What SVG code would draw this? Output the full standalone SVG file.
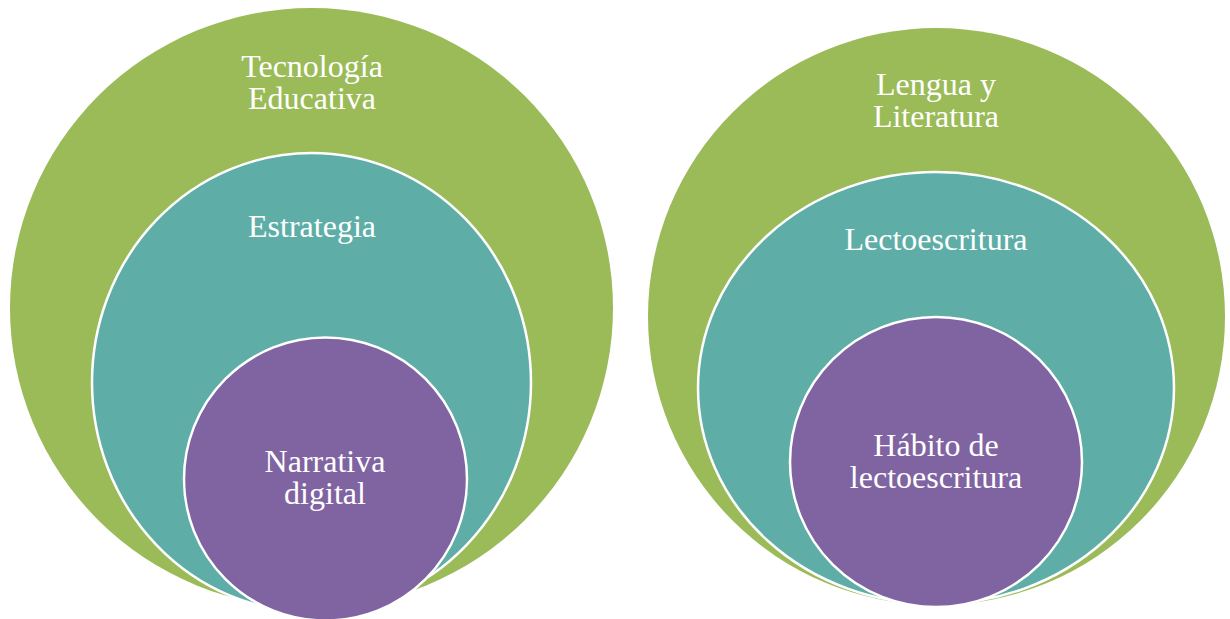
<svg xmlns="http://www.w3.org/2000/svg" width="1230" height="619" viewBox="0 0 1230 619">
  <style>
    .outer { fill: #9BBB59; }
    .mid { fill: #5EAEA7; stroke: #FFFFFF; stroke-width: 2.5; }
    .inner { fill: #8064A2; stroke: #FFFFFF; stroke-width: 2.5; }
    .lbl { font-family: "Liberation Serif", "Times New Roman", serif; font-size: 32px; fill: #FFFFFF; text-anchor: middle; }
  </style>
  <rect width="1230" height="619" fill="#FFFFFF"/>

  <!-- Left nested set -->
  <g id="tecnologia-educativa">
    <ellipse class="outer" cx="311.5" cy="308" rx="301.5" ry="300"/>
    <text class="lbl" x="312" y="77">Tecnología</text>
    <text class="lbl" x="312" y="109">Educativa</text>
  </g>
  <g id="estrategia">
    <ellipse class="mid" cx="311.5" cy="382.5" rx="219.5" ry="229.5"/>
    <text class="lbl" x="312" y="237">Estrategia</text>
  </g>
  <g id="narrativa-digital">
    <ellipse class="inner" cx="325.5" cy="479" rx="141.5" ry="141.5"/>
    <text class="lbl" x="325" y="472">Narrativa</text>
    <text class="lbl" x="325" y="504">digital</text>
  </g>

  <!-- Right nested set -->
  <g id="lengua-literatura">
    <ellipse class="outer" cx="936.5" cy="316.5" rx="288.5" ry="288.5"/>
    <text class="lbl" x="936" y="95">Lengua y</text>
    <text class="lbl" x="936" y="127">Literatura</text>
  </g>
  <g id="lectoescritura">
    <ellipse class="mid" cx="936" cy="388" rx="238" ry="216"/>
    <text class="lbl" x="936" y="250">Lectoescritura</text>
  </g>
  <g id="habito-lectoescritura">
    <ellipse class="inner" cx="936" cy="462" rx="146" ry="145"/>
    <text class="lbl" x="936" y="456">Hábito de</text>
    <text class="lbl" x="936" y="488">lectoescritura</text>
  </g>

  <g id="connectors"/>
</svg>
